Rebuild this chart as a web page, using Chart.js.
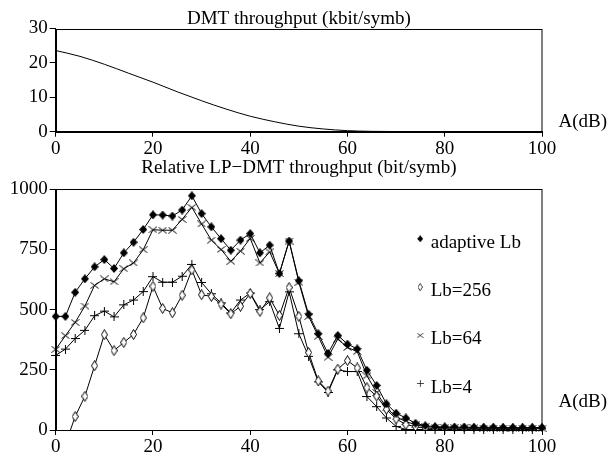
<!DOCTYPE html>
<html>
<head>
<meta charset="utf-8">
<script src="https://cdn.jsdelivr.net/npm/chart.js@4.4.1/dist/chart.umd.min.js"></script>
<style>
  html, body { margin: 0; padding: 0; background: #fff; }
  #wrap { position: relative; width: 610px; height: 455px; overflow: hidden; }
  canvas { position: absolute; left: 0; }
  #dmtChart { top: 0; }
  #relChart { top: 150px; }
</style>
</head>
<body>
<div id="wrap">
  <canvas id="dmtChart" width="610" height="160"></canvas>
  <canvas id="relChart" width="610" height="305"></canvas>
</div>
<script>
// top panel: plain DMT throughput, kbit per symbol
const dmtAttenuation = [0, 5, 10, 15, 20, 25, 30, 35, 40, 45, 50, 55, 60, 65, 70, 75, 80, 85, 90, 95, 100];
const dmtThroughput = [23.6, 21.9, 19.6, 17.0, 14.4, 11.6, 9.0, 6.6, 4.5, 2.9, 1.6, 0.8, 0.3, 0.1, 0.05, 0, 0, 0, 0, 0, 0];

// bottom panel: LP-DMT gain, bit per symbol, every 2 dB
const attenuation = [0, 2, 4, 6, 8, 10, 12, 14, 16, 18, 20, 22, 24, 26, 28, 30, 32, 34, 36, 38, 40, 42, 44, 46, 48, 50,
  52, 54, 56, 58, 60, 62, 64, 66, 68, 70, 72, 74, 76, 78, 80, 82, 84, 86, 88, 90, 92, 94, 96, 98, 100];
const adaptiveLb = [472, 472, 572, 628, 678, 708, 671, 736, 780, 833, 894, 893, 889, 914, 973, 899, 844, 795, 747, 789, 816,
  736, 768, 650, 785, 620, 481, 400, 318, 393, 357, 337, 248, 185, 109, 70, 50, 28, 18, 14, 13,
  12, 12, 11, 11, 11, 10, 10, 10, 10, 10];
const lb256 = [null, -60, 56, 140, 267, 396, 330, 364, 397, 466, 597, 505, 487, 560, 665, 562, 555, 523, 483, 514, 567,
  493, 549, 476, 592, 472, 322, 204, 162, 253, 288, 258, 176, 141, 86, 46, 23, 14, 8,
  6, 5, 5, 5, 5, 5, 5, 5, 5, 5, 5, 5];
const lb64 = [335, 392, 447, 515, 601, 628, 616, 670, 694, 749, 832, 830, 830, 875, 925, 856, 789, 750, 701, 743, 796,
  694, 740, 650, 785, 614, 472, 389, 302, 378, 343, 326, 225, 156, 92, 55, 35, 22, 14,
  11, 10, 9, 9, 9, 8, 8, 8, 8, 8, 8, 8];
const lb4 = [310, 336, 380, 414, 475, 494, 470, 520, 540, 575, 637, 614, 614, 639, 688, 613, 566, 528, 486, 540, 569,
  500, 533, 422, 574, 400, 306, 200, 156, 250, 243, 243, 139, 97, 50, 15, 2,
  2, 2, 2, 2, 2, 2, 2, 2, 2, 2, 2, 2, 2];

const xTicks = [0, 20, 40, 60, 80, 100];
const dmtTicks = [0, 10, 20, 30];
const relTicks = [0, 250, 500, 750, 1000];
const seriesNames = ['adaptive Lb', 'Lb=256', 'Lb=64', 'Lb=4'];

const serif = '"Liberation Serif", "Times New Roman", serif';
Chart.defaults.font.family = serif;
Chart.defaults.font.size = 19;
Chart.defaults.color = '#000';

function marker(w, h, draw) {
  const c = document.createElement('canvas');
  c.width = w;
  c.height = h;
  const g = c.getContext('2d');
  g.strokeStyle = '#000';
  g.fillStyle = '#000';
  g.lineWidth = 1;
  draw(g, w, h);
  return c;
}
const filledDiamond = marker(8, 9, (g, w, h) => {
  g.beginPath();
  g.moveTo(w / 2, 0); g.lineTo(w, h / 2); g.lineTo(w / 2, h); g.lineTo(0, h / 2);
  g.closePath();
  g.fill();
});
const hollowDiamond = marker(7, 11, (g, w, h) => {
  g.beginPath();
  g.moveTo(w / 2, 0.5); g.lineTo(w - 0.5, h / 2); g.lineTo(w / 2, h - 0.5); g.lineTo(0.5, h / 2);
  g.closePath();
  g.fillStyle = '#fff';
  g.fill();
  g.stroke();
});
const crossMark = marker(9, 7, (g, w, h) => {
  g.beginPath();
  g.moveTo(0.5, 0.5); g.lineTo(w - 0.5, h - 0.5);
  g.moveTo(w - 0.5, 0.5); g.lineTo(0.5, h - 0.5);
  g.stroke();
});
const plusMark = marker(9, 9, (g, w, h) => {
  g.beginPath();
  g.moveTo(4.5, 0); g.lineTo(4.5, h);
  g.moveTo(0, 4.5); g.lineTo(w, 4.5);
  g.stroke();
});

function xy(xs, ys) {
  return xs.map((x, i) => ({ x: x, y: ys[i] }));
}

function xScale(height) {
  return {
    type: 'linear',
    min: xTicks[0],
    max: xTicks[xTicks.length - 1],
    ticks: { stepSize: xTicks[1] - xTicks[0], padding: 1, maxRotation: 0, autoSkip: false, callback: v => String(v) },
    grid: { drawOnChartArea: false, tickLength: 5, color: '#000' },
    border: { color: '#000', width: 1 },
    afterFit: s => { s.height = height; }
  };
}
function yScale(ticks) {
  return {
    min: ticks[0],
    max: ticks[ticks.length - 1],
    ticks: { stepSize: ticks[1] - ticks[0], padding: 2, callback: v => String(v) },
    grid: { drawOnChartArea: false, tickLength: 6, color: '#000' },
    border: { color: '#000', width: 1 },
    afterFit: s => { s.width = 55.7; }
  };
}

// box around the plot plus the A(dB) label at the right end of the axis
function framePlugin(labelDy) {
  return {
    id: 'frame',
    afterDraw(chart) {
      const a = chart.chartArea;
      const ctx = chart.ctx;
      ctx.save();
      ctx.strokeStyle = '#000';
      ctx.lineWidth = 1;
      ctx.strokeRect(Math.round(a.left) + 0.5, Math.round(a.top) + 0.5,
        Math.round(a.right - a.left) - 0.5, Math.round(a.bottom - a.top));
      ctx.font = '19px ' + serif;
      ctx.fillStyle = '#000';
      ctx.textBaseline = 'middle';
      ctx.fillText('A(dB)', a.right + 16.5, a.bottom - labelDy);
      ctx.restore();
    }
  };
}

const legendPlugin = {
  id: 'innerLegend',
  afterDatasetsDraw(chart) {
    const a = chart.chartArea;
    const ctx = chart.ctx;
    ctx.save();
    ctx.font = '19px ' + serif;
    ctx.fillStyle = '#000';
    ctx.textBaseline = 'middle';
    chart.data.datasets.forEach((ds, i) => {
      const y = a.top + 53.5 + i * 48.3;
      const img = ds.pointStyle;
      const w = img.width * 0.75, h = img.height * 0.75;
      ctx.drawImage(img, a.left + 364.5 - w / 2, y - 4 - h / 2, w, h);
      ctx.fillText(ds.label, a.left + 375, y);
    });
    ctx.restore();
  }
};

new Chart(document.getElementById('dmtChart'), {
  type: 'line',
  data: {
    datasets: [{
      label: 'DMT',
      data: xy(dmtAttenuation, dmtThroughput),
      borderColor: '#000',
      borderWidth: 1,
      pointRadius: 0,
      cubicInterpolationMode: 'monotone'
    }]
  },
  options: {
    responsive: false,
    animation: false,
    layout: { padding: { left: 0, right: 68, top: 0, bottom: 0 } },
    scales: { x: xScale(28.3), y: yScale(dmtTicks) },
    plugins: {
      title: {
        display: true, fullSize: false, text: 'DMT throughput (kbit/symb)',
        font: { size: 19, weight: 'normal', lineHeight: 1 },
        padding: { top: 9.5, bottom: 0 }
      },
      legend: { display: false },
      tooltip: { enabled: false }
    }
  },
  plugins: [framePlugin(10)]
});

const styles = [filledDiamond, hollowDiamond, crossMark, plusMark];
const values = [adaptiveLb, lb256, lb64, lb4];

new Chart(document.getElementById('relChart'), {
  type: 'line',
  data: {
    datasets: values.map((v, i) => ({
      label: seriesNames[i],
      data: xy(attenuation, v),
      borderColor: '#000',
      backgroundColor: '#000',
      borderWidth: 1,
      pointStyle: styles[i],
      pointRadius: 4,
      tension: 0,
      clip: i === 1 ? { left: 8, top: 8, right: 8, bottom: 0 } : 8
    }))
  },
  options: {
    responsive: false,
    animation: false,
    layout: { padding: { left: 0, right: 68, top: 0, bottom: 0 } },
    scales: { x: xScale(25), y: yScale(relTicks) },
    plugins: {
      title: {
        display: true, fullSize: false, text: 'Relative LP\u2212DMT throughput (bit/symb)',
        font: { size: 19, weight: 'normal', lineHeight: 1 },
        padding: { top: 8.8, bottom: 11.5 }
      },
      legend: { display: false },
      tooltip: { enabled: false }
    }
  },
  plugins: [framePlugin(28), legendPlugin]
});
</script>
</body>
</html>
